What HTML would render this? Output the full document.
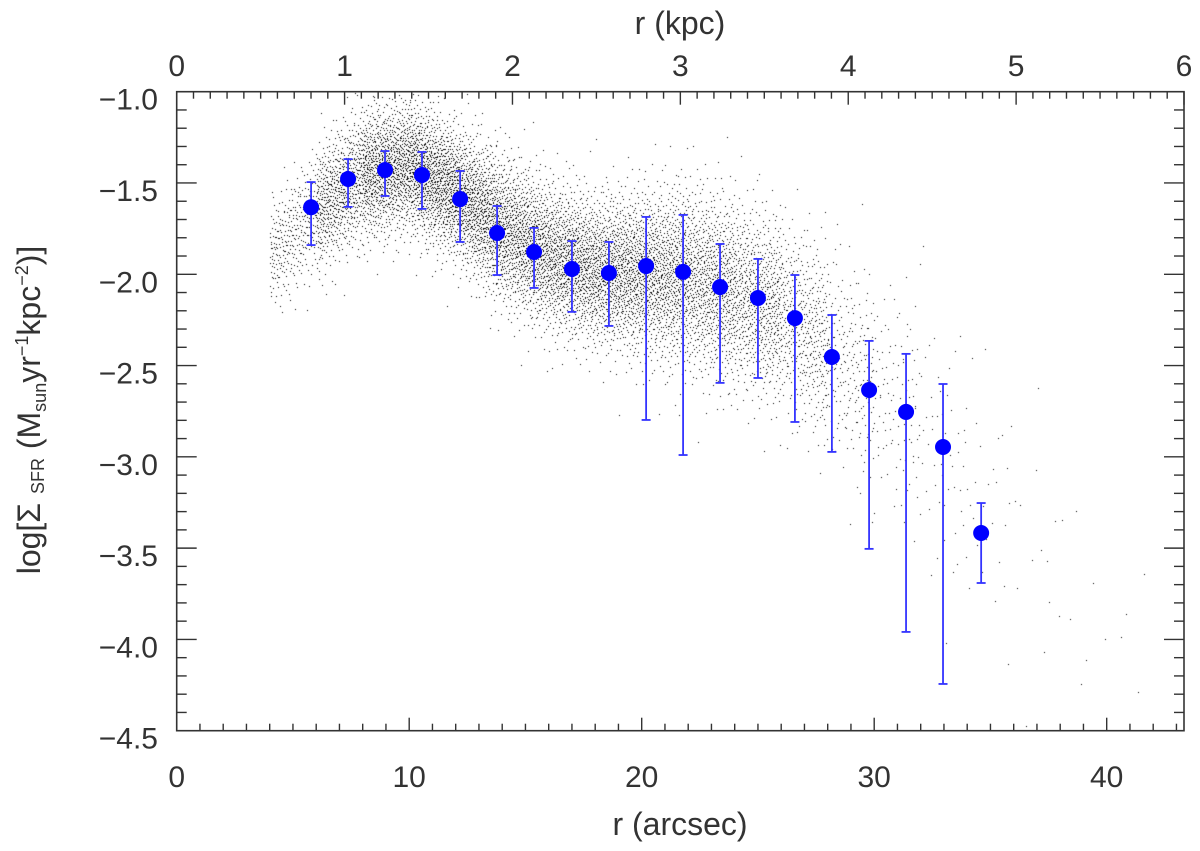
<!DOCTYPE html>
<html><head><meta charset="utf-8"><style>
html,body{margin:0;padding:0;background:#fff;}
#wrap{position:relative;width:1200px;height:851px;}
canvas,svg{position:absolute;left:0;top:0;}
text{font-family:"Liberation Sans",sans-serif;fill:#333;}
</style></head><body>
<div id="wrap">
<canvas id="cloud" width="1200" height="851"></canvas>
<svg id="svg" width="1200" height="851"></svg>
</div>
<script>
// ---- data ----
const radiusArcsec = [5.78,7.37,8.96,10.55,12.19,13.78,15.37,17.0,18.59,20.19,21.78,23.37,25.0,26.59,28.18,29.78,31.37,32.96,34.6];
const meanLogSFR = [-1.633,-1.478,-1.429,-1.456,-1.588,-1.774,-1.878,-1.971,-1.993,-1.955,-1.987,-2.070,-2.130,-2.240,-2.453,-2.634,-2.754,-2.946,-3.417];
const errTop = [-1.495,-1.369,-1.325,-1.330,-1.434,-1.626,-1.746,-1.818,-1.823,-1.686,-1.675,-1.834,-1.916,-2.004,-2.223,-2.365,-2.436,-2.601,-3.253];
const errBottom = [-1.840,-1.631,-1.571,-1.642,-1.823,-2.004,-2.075,-2.206,-2.283,-2.798,-2.990,-2.595,-2.568,-2.809,-2.973,-3.504,-3.959,-4.244,-3.691];
// pixel cloud envelope
const cloudR = [4,6,8,10,12,14,16,18,20,22,24,26,28,30,32,34,36,38,40,42];
const cloudCentre = [-1.9,-1.65,-1.45,-1.4,-1.55,-1.75,-1.9,-1.98,-2.0,-2.02,-2.1,-2.2,-2.4,-2.6,-2.8,-3.1,-3.4,-3.7,-4.0,-4.3];
const cloudSpread = [0.15,0.17,0.18,0.18,0.18,0.2,0.2,0.2,0.22,0.25,0.25,0.25,0.27,0.3,0.35,0.4,0.4,0.4,0.4,0.4];
const cloudCount = [50,260,450,550,550,500,500,500,500,450,400,300,150,70,35,18,8,5,3,3];
const xTicks = [0,10,20,30,40];
const kpcTicks = [0,1,2,3,4,5,6];
const yTicks = [-1.0,-1.5,-2.0,-2.5,-3.0,-3.5,-4.0,-4.5];

// ---- axes ----
const L=176.7,R=1184,T=91.7,B=730.7;
const X0=0,X1=(R-L)/23.25; const Y0=-4.5,Y1=-1.0;
const sx=v=>L+(v-X0)/(X1-X0)*(R-L);
const sy=v=>B-(v-Y0)/(Y1-Y0)*(B-T);
const kx=v=>L+v/6*(R-L);

const NS="http://www.w3.org/2000/svg";
const svg=document.getElementById('svg');
function mk(tag,attrs,parent){const e=document.createElementNS(NS,tag);for(const k in attrs)e.setAttribute(k,attrs[k]);(parent||svg).appendChild(e);return e;}

// cloud (deterministic low-discrepancy fill of envelope)
const ctx=document.getElementById('cloud').getContext('2d');
ctx.fillStyle='#000';
function halton(i,b){let f=1,r=0;while(i>0){f/=b;r+=f*(i%b);i=Math.floor(i/b);}return r;}
function ninv(p){p=Math.min(Math.max(p,1e-4),1-1e-4);const t=Math.sqrt(-2*Math.log(p<0.5?p:1-p));let z=t-(2.515517+0.802853*t+0.010328*t*t)/(1+1.432788*t+0.189269*t*t+0.001308*t*t*t);return p<0.5?-z:z;}
let idx=1;
for(let k=0;k<cloudR.length-1;k++){
  const n=Math.round((cloudCount[k]+cloudCount[k+1])/2*2);
  for(let j=0;j<n;j++,idx++){
    const u=halton(idx,2),w=halton(idx,3);
    const r=cloudR[k]+u*(cloudR[k+1]-cloudR[k]);
    const c=cloudCentre[k]+u*(cloudCentre[k+1]-cloudCentre[k]);
    const s=cloudSpread[k]+u*(cloudSpread[k+1]-cloudSpread[k]);
    const v=c+s*ninv(w);
    const px=Math.round(sx(r)),py=Math.round(sy(v));
    if(px<L||px>R||py<T||py>B)continue;
    ctx.fillRect(px,py,1,1);
  }
}

// frame
mk('rect',{x:L,y:T,width:R-L,height:B-T,fill:'none',stroke:'#333','stroke-width':1.6,});
const tg=mk('g',{stroke:'#333','stroke-width':1.4,});
for(let i=0;i<=43;i++){const x=sx(i),big=i%10===0,len=big?13:7;
  mk('line',{x1:x,y1:B,x2:x,y2:B-len},tg);}
for(let i=0;i<=60;i++){const x=kx(i/10),big=i%10===0,len=big?13:7;
  mk('line',{x1:x,y1:T,x2:x,y2:T+len},tg);}
for(let i=0;i<=35;i++){const y=sy(-4.5+i*0.1),big=i%5===0,len=big?20:10;
  mk('line',{x1:L,y1:y,x2:L+len,y2:y},tg);mk('line',{x1:R,y1:y,x2:R-len,y2:y},tg);}

xTicks.forEach(v=>{const t=mk('text',{x:sx(v),y:787,'font-size':30,'text-anchor':'middle'});t.textContent=v;

});
kpcTicks.forEach(v=>{const t=mk('text',{x:kx(v),y:76,'font-size':30,'text-anchor':'middle'});t.textContent=v;

});
yTicks.forEach(v=>{const t=mk('text',{x:158,y:sy(v)+18,'font-size':30,'text-anchor':'end'});t.textContent='\u2212'+Math.abs(v).toFixed(1);

});

const xt=mk('text',{x:680,y:835,'font-size':32,'text-anchor':'middle',});xt.textContent='r (arcsec)';
const kt=mk('text',{x:680,y:34,'font-size':32,'text-anchor':'middle',});kt.textContent='r (kpc)';
const yt=mk('text',{transform:'translate(40,410) rotate(-90)','font-size':32,'text-anchor':'middle',});
yt.innerHTML='log[\u03A3 <tspan font-size="18" dy="4">SFR</tspan><tspan dy="-4"> (M</tspan><tspan font-size="18" dy="6">sun</tspan><tspan dy="-6">yr</tspan><tspan font-size="18" dy="-12">\u22121</tspan><tspan dy="12">kpc</tspan><tspan font-size="18" dy="-12">\u22122</tspan><tspan dy="12">)]</tspan>';

// error bars + means
const eg=mk('g',{stroke:'#3333ff','stroke-width':1.8,});
radiusArcsec.forEach((r,i)=>{const x=sx(r);
  const l=mk('line',{x1:x,y1:sy(errTop[i]),x2:x,y2:sy(errBottom[i])},eg);
  
  
  mk('line',{x1:x-4.5,y1:sy(errTop[i]),x2:x+4.5,y2:sy(errTop[i])},eg);
  mk('line',{x1:x-4.5,y1:sy(errBottom[i]),x2:x+4.5,y2:sy(errBottom[i])},eg);
});
radiusArcsec.forEach((r,i)=>{const c=mk('circle',{cx:sx(r),cy:sy(meanLogSFR[i]),r:8,fill:'#0000ff'});
  
  });
</script>
</body></html>
